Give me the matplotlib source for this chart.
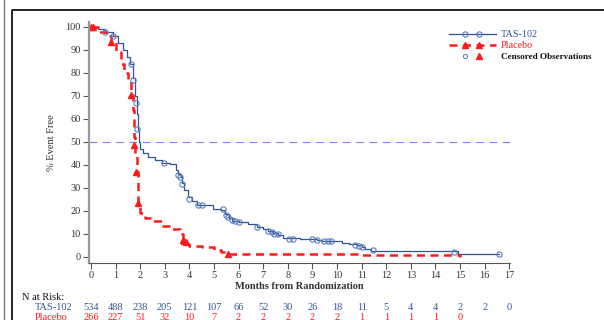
import numpy as np
import matplotlib
matplotlib.use('Agg')
import matplotlib.pyplot as plt
from matplotlib.lines import Line2D
from matplotlib.legend_handler import HandlerLine2D, HandlerTuple

plt.rcParams['font.family'] = ['Liberation Serif', 'DejaVu Serif']

# TAS-102 curve (months, % event free)
tas_t = [0, 0.3, 0.57, 0.9, 1.1, 1.3, 1.45, 1.6, 1.7, 1.8, 1.85, 1.9, 1.95, 2.0, 2.1, 2.3, 2.6, 2.9,
         3.2, 3.45, 3.55, 3.65, 3.7, 3.8, 3.95, 4.1, 4.3, 4.96, 5.3, 5.45, 5.6, 5.75, 6.0, 6.4, 6.75,
         7.0, 7.2, 7.4, 7.6, 7.8, 8.5, 9.0, 9.2, 9.4, 9.8, 10.2, 10.5, 10.8, 11.0, 11.15, 11.4, 12.85,
         14.9, 16.6]
tas_s = [100, 99, 97.8, 96, 93, 90, 87, 84, 78, 70, 62, 55, 50, 47, 45, 43.5, 42, 41,
         40.3, 38, 36, 34.8, 32, 29, 26, 24.5, 22.8, 21, 20.5, 18.5, 17, 15.8, 15, 14.2, 13.2,
         12, 11.2, 10.5, 9.5, 8.2, 8.0, 7.9, 7.4, 7.0, 6.8, 6.3, 5.6, 5.0, 4.5, 3.5, 2.8, 2.4,
         1.5, 1.5]
tas_cens_t = [0.57, 0.9, 1.63, 1.71, 1.83, 1.88, 2.97, 3.54, 3.63, 3.69, 3.98, 4.35, 4.5, 5.37, 5.49,
              5.57, 5.72, 5.85, 6.0, 6.75, 7.2, 7.35, 7.45, 7.6, 8.05, 8.2, 8.98, 9.2, 9.45, 9.65,
              9.75, 10.75, 10.9, 11.0, 11.45, 14.75, 16.6]
tas_cens_s = [97.8, 96, 84, 77, 67, 55.6, 40.7, 35.6, 34.9, 31.7, 25.3, 22.8, 22.8, 20.9, 18.3,
              17.3, 16, 15.5, 15, 13, 11.3, 10.8, 10.2, 9.8, 8, 8, 8, 7.4, 7, 7,
              7, 5.3, 4.9, 4.4, 3.0, 2.3, 1.5]

# Placebo curve
pla_t = [0, 0.3, 0.6, 0.81, 1.0, 1.2, 1.35, 1.5, 1.63, 1.7, 1.75, 1.8, 1.85, 1.9, 1.93, 2.0, 2.2,
         2.5, 2.9, 3.3, 3.6, 3.75, 3.9, 4.0, 4.5, 5.0, 5.3, 5.53, 10.95, 11.0, 14.95, 15.0]
pla_s = [100, 98, 96, 93.5, 89, 84, 80, 77, 70.5, 64, 52, 45, 37, 29, 22.6, 19, 17,
         15.5, 13.3, 12, 10, 7.5, 5.5, 4.8, 4.3, 3, 2, 1.4, 1.4, 0.7, 0.7, 0]
pla_cens_t = [0.0, 0.08, 0.81, 1.63, 1.75, 1.83, 1.91, 3.72, 3.78, 3.85, 5.55]
pla_cens_s = [100, 100, 93.5, 70.5, 48.7, 37, 23.5, 7.5, 6.8, 6.5, 1.4]

months = np.arange(0, 18)
risk_tas = [534, 488, 238, 205, 121, 107, 66, 52, 30, 26, 18, 11, 5, 4, 4, 2, 2, 0]
risk_pla = [266, 227, 51, 32, 10, 7, 2, 2, 2, 2, 2, 1, 1, 1, 1, 0]

blue = '#2f5597'
blue_mk = '#5b7bbd'
red = '#ff1a1a'
grey_txt = '#333333'

fig = plt.figure(figsize=(6.04, 3.2), dpi=100)
ax = fig.add_axes([89 / 604, 1 - 263 / 320, 421 / 604, 241 / 320])

ax.axhline(50, color='#7b7bff', lw=0.8, dashes=(7, 5))
ax.plot(tas_t, tas_s, drawstyle='steps-post', color=blue, lw=0.9)
ax.plot(pla_t, pla_s, drawstyle='steps-post', color=red, lw=1.8, dashes=(3.2, 2.2))
ax.plot(tas_cens_t, tas_cens_s, ls='none', marker='o', ms=3.8, mfc='none', mec=blue_mk, mew=0.8)
ax.plot(pla_cens_t, pla_cens_s, ls='none', marker='^', ms=4.6, color=red)

ax.set_xlim(-0.081, 17.03)
ax.set_ylim(-2.61, 102.17)
ax.set_xticks(months)
ax.set_yticks(np.arange(0, 101, 10))
ax.tick_params(labelsize=7.5, colors='#555555', labelcolor=grey_txt, length=4, width=0.8, pad=2)
ax.spines['top'].set_visible(False)
ax.spines['right'].set_visible(False)
ax.spines['left'].set_color('#999999')
ax.spines['left'].set_linewidth(1.6)
ax.spines['bottom'].set_color('#555555')
ax.spines['bottom'].set_linewidth(0.8)
ax.set_xlabel('Months from Randomization', fontsize=7.5, fontweight='bold', color=grey_txt, labelpad=1)
ax.set_ylabel('% Event Free', fontsize=7.5, color=grey_txt, labelpad=7)

# legend
l_tas = Line2D([], [], color=blue, lw=0.9)
m_tas = Line2D([], [], ls='none', marker='o', ms=3.8, mfc='none', mec=blue_mk, mew=0.8)
l_pla = Line2D([], [], color=red, lw=1.8, dashes=(3.2, 2.2))
m_pla = Line2D([], [], ls='none', marker='^', ms=4.6, color=red)
c_tas = Line2D([], [], ls='none', marker='o', ms=3, mfc='none', mec=blue_mk, mew=0.7)
c_pla = Line2D([], [], ls='none', marker='^', ms=4.6, color=red)
hmap = {
    l_tas: HandlerLine2D(numpoints=2, marker_pad=0),
    l_pla: HandlerLine2D(numpoints=2, marker_pad=0),
    m_tas: HandlerLine2D(numpoints=2, marker_pad=1.6),
    m_pla: HandlerLine2D(numpoints=2, marker_pad=1.6),
    c_tas: HandlerLine2D(numpoints=1),
    c_pla: HandlerLine2D(numpoints=1),
    tuple: HandlerTuple(ndivide=1, pad=0),
}
hmap[(c_tas, c_pla)] = HandlerTuple(ndivide=2, pad=-1.85)
leg = fig.legend([(l_tas, m_tas), (l_pla, m_pla), (c_tas, c_pla)],
                 ['TAS-102', 'Placebo', 'Censored Observations'],
                 handler_map=hmap, loc='upper left', bbox_to_anchor=(449 / 604, 1 - 30 / 320),
                 frameon=False, fontsize=7.3, borderpad=0, borderaxespad=0, handlelength=4.6,
                 handletextpad=0.55, labelspacing=0.2, handleheight=0.7)
leg.get_texts()[0].set_color(blue)
leg.get_texts()[1].set_color(red)
leg.get_texts()[2].set_color('#111111')
leg.get_texts()[2].set_fontweight('bold')
leg.get_texts()[2].set_fontsize(6.6)

# number at risk table
tr = ax.get_xaxis_transform()
fig.text(22 / 604, 1 - 297 / 320, 'N at Risk:', fontsize=7.5, color='#111111', va='center')
fig.text(35 / 604, 1 - 307 / 320, 'TAS-102', fontsize=7.5, color=blue, va='center')
fig.text(35 / 604, 1 - 317 / 320, 'Placebo', fontsize=7.5, color=red, va='center')
for m, n in zip(months, risk_tas):
    ax.text(m, -44 / 241, str(n), transform=tr, ha='center', va='center', fontsize=7.5, color=blue)
for m, n in zip(months, risk_pla):
    ax.text(m, -54 / 241, str(n), transform=tr, ha='center', va='center', fontsize=7.5, color=red)

# page frame
fig.add_artist(Line2D([4 / 604, 4 / 604], [0, 1], color='#777777', lw=1))
fig.add_artist(Line2D([12 / 604, 12 / 604, 1], [0, 1 - 10 / 320, 1 - 10 / 320], color='black', lw=1.2))

fig.savefig('out.png', dpi=100)
